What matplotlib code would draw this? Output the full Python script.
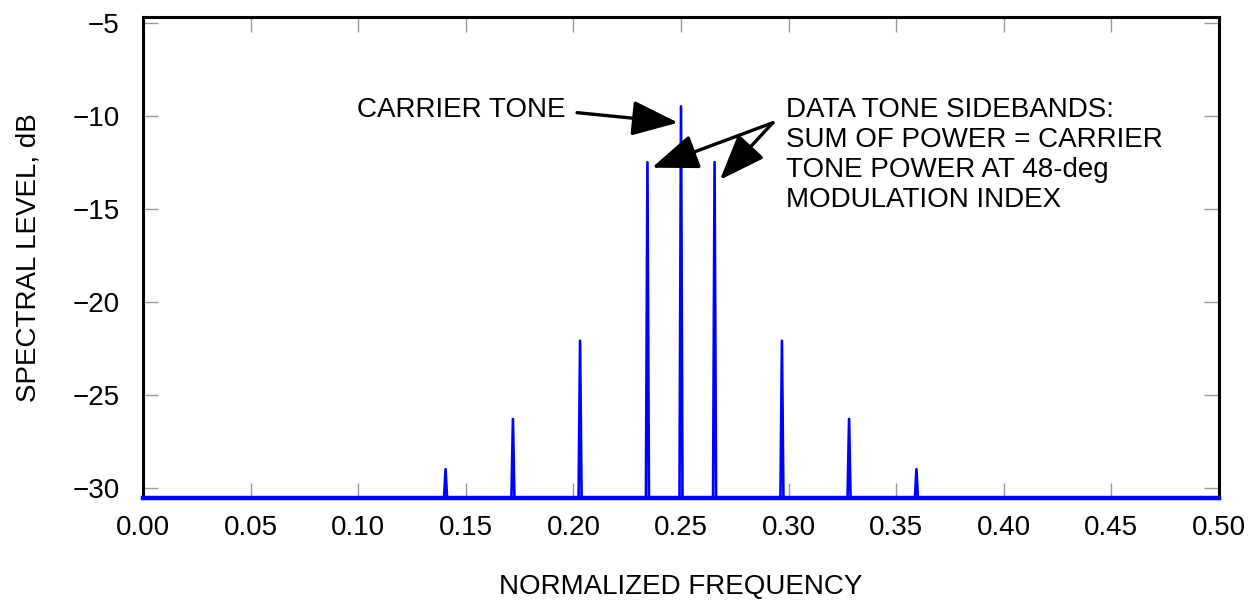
import numpy as np
import matplotlib.pyplot as plt

plt.rcParams['font.family'] = ['Liberation Sans', 'DejaVu Sans']

# spectral lines: normalized frequency and level in dB
freqs = [0.1406, 0.1719, 0.2031, 0.2344, 0.2500, 0.2656, 0.2969, 0.3281, 0.3594]
levels = [-29.0, -26.3, -22.1, -12.5, -9.5, -12.5, -22.1, -26.3, -29.0]
floor_db = -30.55

xticks = [0.00, 0.05, 0.10, 0.15, 0.20, 0.25, 0.30, 0.35, 0.40, 0.45, 0.50]
yticks = [-30, -25, -20, -15, -10, -5]

fig = plt.figure(figsize=(12.58, 6.01), dpi=100)
ax = fig.add_axes([143 / 1258, 1 - 498 / 601, (1219 - 143) / 1258, (498 - 17) / 601])

# build a trace: floor with narrow triangular peaks
w = 0.0007
xs = [0.0]
ys = [floor_db]
for f, lv in zip(freqs, levels):
    xs += [f - w, f, f + w]
    ys += [floor_db, lv, floor_db]
xs.append(0.5)
ys.append(floor_db)
ax.plot(xs, ys, color='#0000ff', lw=1.9, zorder=3)
ax.plot([0, 0.5], [floor_db, floor_db], color='#0000ff', lw=3.2, zorder=4, clip_on=False)

ax.set_xlim(0, 0.5)
ax.set_ylim(floor_db, -4.7)
ax.set_xticks(xticks)
ax.set_xticklabels([f'{t:.2f}' for t in xticks])
ax.set_yticks(yticks)
ax.tick_params(direction='in', length=11, width=1, color='#999999',
               labelsize=20, top=True, right=True)
ax.tick_params(axis='x', pad=12)
ax.tick_params(axis='y', pad=17)
for s in ax.spines.values():
    s.set_linewidth(2.2)

ax.set_xlabel('NORMALIZED FREQUENCY', fontsize=20, labelpad=24)
ax.set_ylabel('SPECTRAL LEVEL, dB', fontsize=20, labelpad=22)

arrow = dict(arrowstyle='-|>,head_length=1.1,head_width=0.42', color='black',
             lw=2.4, mutation_scale=26, shrinkA=0, shrinkB=0)

ax.annotate('', xy=(0.2486, -10.38), xytext=(0.2017, -9.84), arrowprops=arrow)
ax.text(0.1965, -9.7, 'CARRIER TONE', fontsize=20, ha='right', va='center')

ax.annotate('', xy=(0.2365, -12.8), xytext=(0.2927, -10.38), arrowprops=arrow)
ax.annotate('', xy=(0.2681, -13.45), xytext=(0.2927, -10.38), arrowprops=arrow)
ax.text(0.2990, -12.1,
        'DATA TONE SIDEBANDS:\nSUM OF POWER = CARRIER\nTONE POWER AT 48-deg\nMODULATION INDEX',
        fontsize=20, ha='left', va='center', linespacing=1.2)

fig.savefig('out.png', dpi=100)
